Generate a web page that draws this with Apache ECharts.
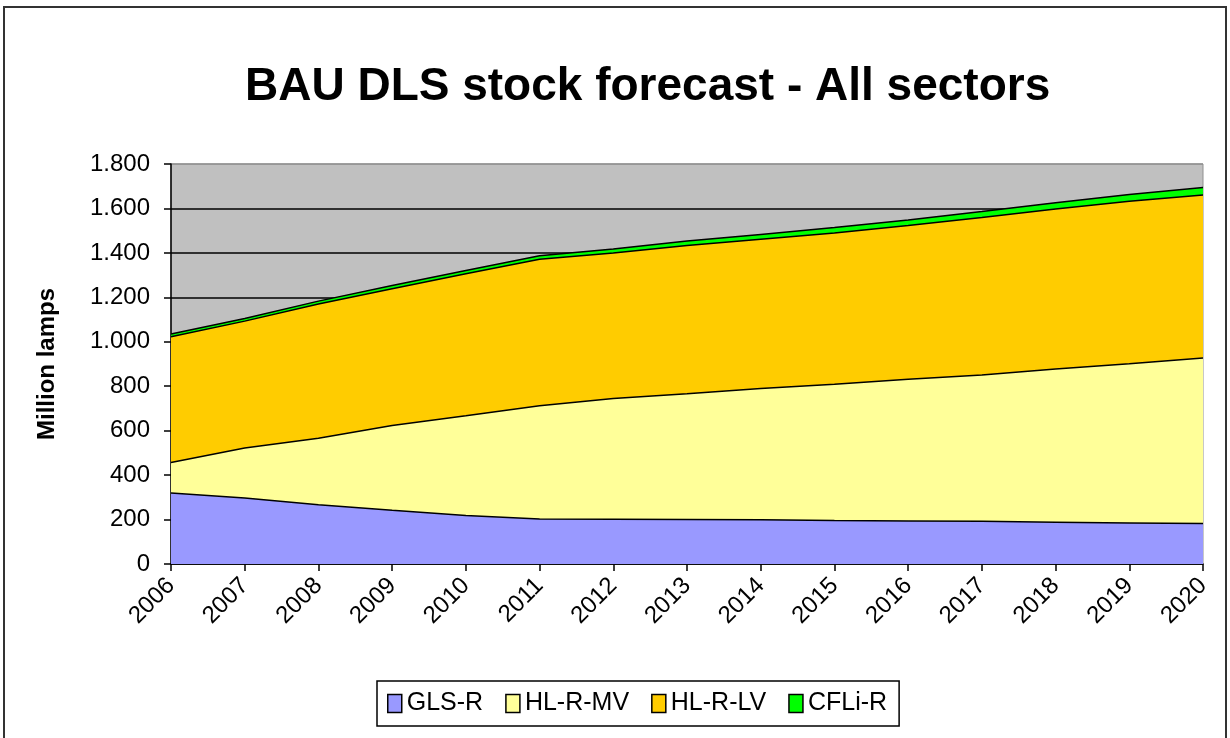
<!DOCTYPE html>
<html>
<head>
<meta charset="utf-8">
<script src="https://cdn.jsdelivr.net/npm/echarts@6/dist/echarts.min.js"></script>
<style>
html,body{margin:0;padding:0;background:#fff;}
#chart{width:1230px;height:738px;}
</style>
</head>
<body>
<div id="chart"></div>
<script>
const years = ['2006','2007','2008','2009','2010','2011','2012','2013','2014','2015','2016','2017','2018','2019','2020'];
const glsR   = [320, 297, 267, 242, 218, 202, 201, 200, 199, 196, 194, 192, 188, 185, 182];
const hlRMV  = [137, 225, 299, 381, 449, 510, 544, 566, 591, 613, 637, 658, 689, 716, 745];
const hlRLV  = [566, 571, 604, 616, 639, 659, 654, 667, 671, 681, 692, 709, 720, 731, 734];
const cfliR  = [12, 12, 13, 14, 15, 16, 18, 20, 22, 24, 25, 27, 29, 31, 33];
const seriesNames = ['GLS-R', 'HL-R-MV', 'HL-R-LV', 'CFLi-R'];
const seriesColors = ['#9999FF', '#FFFF99', '#FFCC00', '#00FF00'];
const seriesData = [glsR, hlRMV, hlRLV, cfliR];

const chart = echarts.init(document.getElementById('chart'), null, {renderer: 'canvas'});
const font = '"Liberation Sans", Arial, sans-serif';

const splitColors = ['#000','#000','#000','#000','#000','#000','#000','#000','#000','#909090'];

chart.setOption({
  animation: false,
  backgroundColor: '#fff',
  graphic: [{
    type: 'rect',
    shape: {x: 4, y: 7, width: 1222, height: 745},
    style: {fill: 'none', stroke: '#333', lineWidth: 2},
    z: -1
  }],
  title: {
    text: 'BAU DLS stock forecast - All sectors',
    left: 240,
    top: 59,
    textStyle: {fontFamily: font, fontSize: 46, fontWeight: 'bold', color: '#000'}
  },
  legend: {
    data: seriesNames,
    left: 377,
    top: 681,
    icon: 'rect',
    itemWidth: 14,
    itemHeight: 18,
    itemGap: 22,
    borderColor: '#000',
    borderWidth: 1.5,
    padding: [10, 12, 10, 10],
    textStyle: {fontFamily: font, fontSize: 25, color: '#000', padding: [0, 0, 0, 0]},
    itemStyle: {borderColor: '#000', borderWidth: 1.5}
  },
  grid: {
    left: 171, right: 27, top: 164, bottom: 174,
    show: true,
    backgroundColor: '#C0C0C0',
    borderColor: '#909090',
    borderWidth: 1
  },
  xAxis: {
    type: 'category',
    data: years,
    boundaryGap: false,
    axisLine: {show: true, lineStyle: {color: '#000', width: 1.5}},
    axisTick: {show: true, length: 7, lineStyle: {color: '#000', width: 1.5}, alignWithLabel: true},
    axisLabel: {rotate: 45, margin: 18, fontFamily: font, fontSize: 24, color: '#000', interval: 0},
    splitLine: {show: false}
  },
  yAxis: {
    type: 'value',
    min: 0, max: 1800, interval: 200,
    name: 'Million lamps',
    nameLocation: 'middle',
    nameRotate: 90,
    nameGap: 112,
    nameTextStyle: {fontFamily: font, fontSize: 24, fontWeight: 'bold', color: '#000'},
    axisLine: {show: true, lineStyle: {color: '#000', width: 1.5}},
    axisTick: {show: true, length: 7, lineStyle: {color: '#000', width: 1.5}},
    axisLabel: {
      margin: 21, fontFamily: font, fontSize: 24, color: '#000',
      formatter: function (v) { return v >= 1000 ? Math.floor(v/1000) + '.' + String(v % 1000).padStart(3, '0') : String(v); }
    },
    splitLine: {show: true, lineStyle: {color: splitColors, width: 1.5}}
  },
  series: seriesNames.map(function (name, i) {
    return {
      name: name,
      type: 'line',
      stack: 'total',
      data: seriesData[i],
      symbol: 'none',
      smooth: false,
      itemStyle: {color: seriesColors[i], borderColor: '#000'},
      lineStyle: {color: '#000', width: 1.5},
      areaStyle: {color: seriesColors[i], opacity: 1}
    };
  })
});
</script>
</body>
</html>
